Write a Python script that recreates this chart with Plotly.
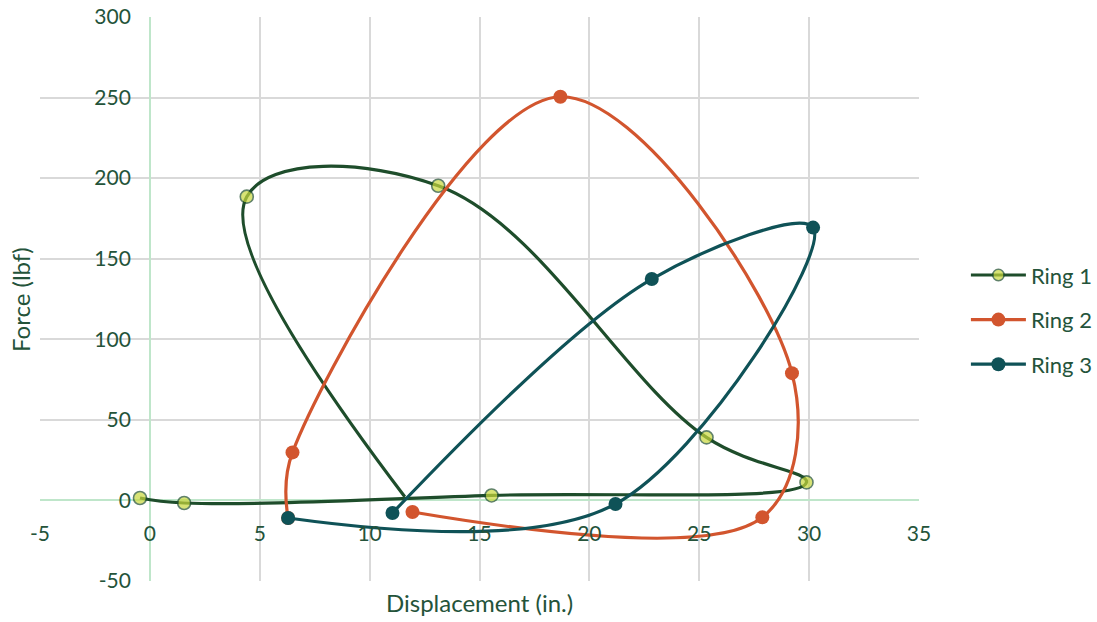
import plotly.graph_objects as go

# Force-displacement loops for three rings, points in traversal order
ring1_disp = [-0.45, 1.56, 15.55, 29.88, 25.33, 13.12, 4.41, 11.6]
ring1_force = [1.5, -1.6, 3.1, 11.2, 39.1, 195.3, 188.5, 2.3]
ring1_marker = [13, 13, 13, 13, 13, 13, 13, 0]

ring2_disp = [6.29, 6.49, 18.68, 29.22, 27.87, 11.95]
ring2_force = [-10.9, 29.8, 250.5, 79.0, -10.5, -7.2]

ring3_disp = [6.29, 21.19, 30.18, 22.84, 11.04]
ring3_force = [-10.9, -2.2, 169.3, 137.4, -7.8]

x_ticks = [-5, 0, 5, 10, 15, 20, 25, 30, 35]
x_tick_labels = ["-5", "0", "5", "10", "15", "20", "25", "30", "35"]
y_ticks = [-50, 0, 50, 100, 150, 200, 250, 300]
y_tick_labels = ["-50", "0", "50", "100", "150", "200", "250", "300"]

x_range = [-5, 35]
y_range = [-50, 300]

TEXT = "#24533A"
FONT = "Lato"

fig = go.Figure()

fig.add_trace(go.Scatter(
    x=ring1_disp, y=ring1_force, name="Ring 1", mode="lines+markers",
    line=dict(color="#1E4D2B", width=3.2, shape="spline", smoothing=1.15),
    marker=dict(color="#C8D83C", size=ring1_marker,
                line=dict(color="#1E4D2B", width=1.6)),
    legendgroup="r1",
))
fig.add_trace(go.Scatter(
    x=ring2_disp, y=ring2_force, name="Ring 2", mode="lines+markers",
    line=dict(color="#D2552E", width=3.2, shape="spline", smoothing=1),
    marker=dict(color="#D2552E", size=14),
    legendgroup="r2",
))
fig.add_trace(go.Scatter(
    x=ring3_disp, y=ring3_force, name="Ring 3", mode="lines+markers",
    line=dict(color="#0F5257", width=3.2, shape="spline", smoothing=1),
    marker=dict(color="#0F5257", size=14),
    legendgroup="r3",
))

# axes cross at zero, labels sit beside the zero lines
y_axis_pos = (0 - x_range[0]) / (x_range[1] - x_range[0])
x_axis_pos = (0 - y_range[0]) / (y_range[1] - y_range[0])

fig.update_xaxes(
    range=x_range, tickmode="array", tickvals=x_ticks, ticktext=x_tick_labels,
    showgrid=True, gridcolor="#D9D9D9", gridwidth=2,
    zeroline=True, zerolinecolor="#BFE6CA", zerolinewidth=2, showline=False,
    anchor="free", position=x_axis_pos, ticks="", ticklabelstandoff=19,
    tickfont=dict(family=FONT, size=21, color=TEXT), fixedrange=True,
)
fig.update_yaxes(
    range=y_range, tickmode="array", tickvals=y_ticks, ticktext=y_tick_labels,
    showgrid=True, gridcolor="#D9D9D9", gridwidth=2,
    zeroline=True, zerolinecolor="#BFE6CA", zerolinewidth=2, showline=False,
    anchor="free", position=y_axis_pos, ticks="", ticklabelstandoff=19,
    tickfont=dict(family=FONT, size=21, color=TEXT), fixedrange=True,
)

fig.add_annotation(text="Displacement (in.)", xref="paper", yref="paper",
                   x=0.5, y=-0.039, xanchor="center", yanchor="middle", showarrow=False,
                   font=dict(family=FONT, size=24, color=TEXT))
fig.add_annotation(text="Force (lbf)", xref="paper", yref="paper",
                   x=-0.0228, y=0.5, xanchor="center", yanchor="middle", showarrow=False,
                   textangle=-90, font=dict(family=FONT, size=24, color=TEXT))

fig.update_layout(
    width=1097, height=622,
    margin=dict(l=40, r=178, t=17, b=41, autoexpand=False),
    paper_bgcolor="white", plot_bgcolor="white",
    showlegend=True,
    legend=dict(xref="container", yref="container", x=0.8805, y=0.486,
                xanchor="left", yanchor="middle",
                font=dict(family=FONT, size=22, color=TEXT), itemwidth=55,
                tracegroupgap=13, bgcolor="rgba(0,0,0,0)"),
)

fig.write_html("out.html")
